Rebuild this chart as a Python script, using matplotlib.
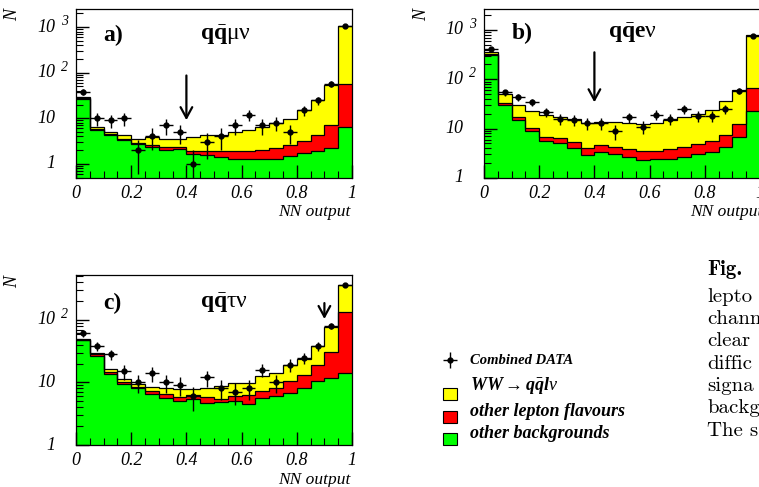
import numpy as np
import matplotlib
matplotlib.use("Agg")
import matplotlib.pyplot as plt
from matplotlib.ticker import FixedLocator, LogLocator, MultipleLocator, NullFormatter
from matplotlib.transforms import blended_transform_factory, offset_copy
from matplotlib.patches import Rectangle

plt.rcParams.update({
    "mathtext.fontset": "custom",
    "mathtext.rm": "Liberation Serif",
    "mathtext.it": "Liberation Serif:italic",
    "mathtext.bf": "Liberation Serif:bold",
    "mathtext.bfit": "Liberation Serif:italic:bold",
    "mathtext.fallback": "stix",
    "font.family": ["Liberation Serif", "DejaVu Sans"],
})

# ---------------- data (20 bins of NN output) ----------------
bin_edges = np.linspace(0.0, 1.0, 21)

# panel a) qq mu nu : stacked tops (other bkg, + other lepton flavours, + WW signal)
bkg_a = [27, 5.6, 4.4, 3.4, 2.75, 2.4, 2.05, 2.1, 1.66, 1.6, 1.45, 1.3, 1.3, 1.3, 1.25, 1.5, 1.7, 1.9, 2.2, 6.3]
bkg_lep_a = [27.5, 5.7, 4.5, 3.5, 2.8, 2.6, 2.3, 2.4, 1.95, 1.9, 1.95, 1.95, 1.95, 2.0, 2.2, 2.6, 3.2, 4.3, 7.2, 57]
mc_a = [29.5, 6.6, 5.1, 4.2, 3.55, 3.9, 3.6, 3.5, 3.9, 4.2, 4.4, 5.1, 5.4, 6.3, 7.8, 9.5, 15.5, 25.5, 55, 1040]
data_a = [38, 10, 9, 10, 2, 4, 7, 5, 1, 3, 4, 7, 12, 7, 8, 5, 15, 25, 57, 1040]

# panel b) qq e nu
bkg_b = [307, 30, 15, 9.0, 5.5, 5.2, 4.1, 2.9, 3.4, 3.1, 2.67, 2.28, 2.39, 2.46, 2.67, 3.0, 3.4, 4.25, 6.8, 22.8]
bkg_lep_b = [320, 33.5, 17, 10.5, 6.8, 6.4, 5.3, 4.0, 4.6, 4.25, 3.8, 3.47, 3.52, 3.9, 4.25, 4.8, 5.6, 7.3, 12.6, 67.8]
mc_b = [357, 50, 30, 23, 19, 17.5, 15.8, 12.8, 13.6, 13.6, 13.2, 12.6, 13.2, 14.8, 17.2, 19.5, 24.3, 36, 61.7, 779]
data_b = [418, 54, 43, 34, 22, 16, 15, 13, 13, 9, 17, 11, 19, 16, 25, 18, 18, 25, 58, 750]

# panel c) qq tau nu
bkg_c = [47, 26.3, 13.5, 9.6, 8.0, 6.5, 5.6, 5.0, 5.4, 4.7, 4.8, 5.0, 4.6, 5.6, 6.0, 6.8, 8.2, 10.5, 11.9, 14.2]
bkg_lep_c = [48, 28, 14.4, 10, 8.5, 7.3, 6.5, 5.9, 6.3, 5.8, 5.4, 6.0, 6.4, 7.3, 8.2, 10.5, 13, 18.9, 31, 134]
mc_c = [49, 29, 16.1, 11.2, 9.6, 8.5, 8.0, 7.8, 7.8, 8.0, 8.7, 9.8, 9.8, 12.5, 13.9, 18.9, 24, 38, 77, 356]
data_c = [62, 38, 28, 15, 10, 14, 10, 9, 6, 12, 8, 7, 8, 16, 10, 19, 25, 38, 79, 356]

# cut arrows: (cut value, arrow top, arrow tip)
cut_a = (0.4, 100, 7.9)
cut_b = (0.4, 400, 30)
cut_c = (0.9, 205, 93)

x_ticks = [0, 0.2, 0.4, 0.6, 0.8, 1.0]
x_tick_labels = ["0", "0.2", "0.4", "0.6", "0.8", "1"]
panel_tags = ["a)", "b)", "c)"]
channel_labels = [r"$\mathbf{q}\bar{\mathbf{q}}\mathrm{\mu\nu}$",
                  r"$\mathbf{q}\bar{\mathbf{q}}\mathbf{e}\mathrm{\nu}$",
                  r"$\mathbf{q}\bar{\mathbf{q}}\mathrm{\tau\nu}$"]
legend_labels = ["Combined DATA", r"$\mathbfit{WW} \rightarrow \mathbfit{q\bar{q}l}\nu$",
                 "other lepton flavours", "other backgrounds"]
caption_lines = ["lepto", "chann", "clear", "diffic", "signa", "backg", "The s"]

YELLOW, RED, GREEN = "#ffff00", "#ff0000", "#00ff00"

W, H = 759, 487
fig = plt.figure(figsize=(W / 100, H / 100), dpi=100)


def rect(l, t, r, b):
    return [l / W, 1 - b / H, (r - l) / W, (b - t) / H]


def draw_panel(ax, bkg, bkg_lep, mc, data, ylim, cut, tag, chan, tagy):
    lo = ylim[0]
    ax.set_yscale("log")
    ax.stairs(mc, bin_edges, baseline=lo, fill=True, color=YELLOW, lw=0)
    ax.stairs(bkg_lep, bin_edges, baseline=lo, fill=True, color=RED, lw=0)
    ax.stairs(bkg, bin_edges, baseline=lo, fill=True, color=GREEN, lw=0)
    for v in (mc, bkg_lep, bkg):
        ax.stairs(v, bin_edges, baseline=None, color="black", lw=0.9)
    centers = 0.5 * (bin_edges[:-1] + bin_edges[1:])
    d = np.array(data, dtype=float)
    ax.errorbar(centers, d, xerr=0.5 * np.diff(bin_edges), yerr=np.sqrt(d),
                fmt="o", color="black", ms=3.5, elinewidth=1.0, capsize=0, zorder=5)
    ax.annotate("", xy=(cut[0], cut[2]), xytext=(cut[0], cut[1]),
                arrowprops=dict(arrowstyle="->,head_length=0.55,head_width=0.3",
                                lw=1.6, color="black", mutation_scale=14), zorder=6)
    ax.set_xlim(0, 1)
    ax.set_ylim(*ylim)
    majors = [v for v in (1, 10, 100, 1000) if ylim[0] <= v <= ylim[1]]
    ax.yaxis.set_major_locator(FixedLocator(majors))
    ax.yaxis.set_major_formatter(NullFormatter())
    ax.yaxis.set_minor_locator(LogLocator(base=10, subs=np.arange(2, 10), numticks=20))
    ax.yaxis.set_minor_formatter(NullFormatter())
    ax.set_xticks(x_ticks, x_tick_labels)
    ax.xaxis.set_minor_locator(MultipleLocator(0.05))
    for lbl in ax.get_xticklabels():
        lbl.set_fontstyle("italic")
    ax.tick_params(which="both", direction="in", top=False, right=False, labelsize=13)
    ax.tick_params(which="major", length=9.5, width=1)
    ax.tick_params(which="minor", length=5, width=0.8)
    ax.tick_params(axis="x", pad=5)
    for s in ax.spines.values():
        s.set_linewidth(0.9)
    # y tick labels in ROOT style: "1", "10", "10 ^2", "10 ^3"
    tr = blended_transform_factory(ax.transAxes, ax.transData)
    for v in majors:
        e = int(round(np.log10(v)))
        base = "1" if e == 0 else "10"
        ax.text(-21 / 276, v, base, transform=tr, ha="right", va="center",
                fontsize=13, fontstyle="italic")
        if e >= 2:
            ax.text(-15 / 276, v, str(e), transform=offset_copy(tr, fig=fig, y=4, units="points"),
                    ha="left", va="center", fontsize=10, fontstyle="italic")
    ax.text(0.1, tagy, tag, transform=ax.transAxes, fontsize=17, fontweight="bold", va="center")
    ax.text(0.45, tagy, chan, transform=ax.transAxes, fontsize=17, va="center")


ax_a = fig.add_axes(rect(76, 9, 352, 178))
ax_b = fig.add_axes(rect(484, 9, 760, 178))
ax_c = fig.add_axes(rect(76, 275, 352, 445))

draw_panel(ax_a, bkg_a, bkg_lep_a, mc_a, data_a, (0.49, 2500), cut_a, panel_tags[0], channel_labels[0], 0.846)
draw_panel(ax_b, bkg_b, bkg_lep_b, mc_b, data_b, (1, 2650), cut_b, panel_tags[1], channel_labels[1], 0.858)
draw_panel(ax_c, bkg_c, bkg_lep_c, mc_c, data_c, (1, 520), cut_c, panel_tags[2], channel_labels[2], 0.835)

# overlay in pixel coordinates for axis titles, legend and caption
ov = fig.add_axes([0, 0, 1, 1], zorder=10)
ov.patch.set_alpha(0)
ov.axis("off")
ov.set_xlim(0, W)
ov.set_ylim(H, 0)

for (x, y) in [(13, 15), (422, 15), (13, 282)]:
    ov.text(x, y, "N", rotation=90, fontsize=13, fontstyle="italic", ha="center", va="center")
for (x, y) in [(351, 212), (763, 212), (351, 480)]:
    ov.text(x, y, "NN output", fontsize=12.5, fontstyle="italic", ha="right", va="center")

# legend
ov.errorbar([450], [360], xerr=[7], yerr=[8], fmt="o", color="black", ms=3.5, elinewidth=1.0, capsize=0)
for (y, c) in [(388, YELLOW), (411, RED), (433, GREEN)]:
    ov.add_patch(Rectangle((443, y), 14, 12, facecolor=c, edgecolor="black", lw=0.8))
ov.text(470, 360, legend_labels[0], fontsize=10.5, fontweight="bold", fontstyle="italic", va="center")
ov.text(470, 386, legend_labels[1], fontsize=13, va="center")
ov.text(470, 412, legend_labels[2], fontsize=13, fontweight="bold", fontstyle="italic", va="center")
ov.text(470, 433, legend_labels[3], fontsize=13, fontweight="bold", fontstyle="italic", va="center")

# caption (cropped at the right edge, as in the reference)
ov.text(707, 275, "Fig.", fontsize=15, family="cmb10", va="baseline")
for i, line in enumerate(caption_lines):
    ov.text(707, 301.7 + 22.3 * i, line, fontsize=15, family="cmr10", va="baseline")

fig.savefig("out.png", dpi=100)
